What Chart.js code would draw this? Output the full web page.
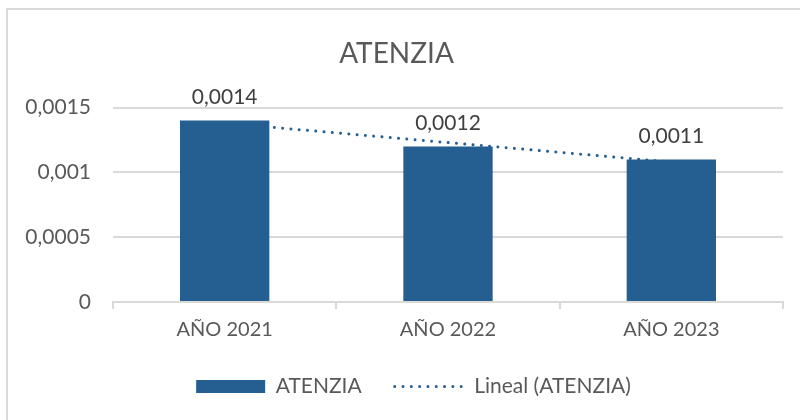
<!DOCTYPE html>
<html>
<head>
<meta charset="utf-8">
<script src="https://cdn.jsdelivr.net/npm/chart.js@4/dist/chart.umd.min.js"></script>
<style>
  html, body { margin: 0; padding: 0; background: #fff; }
  #wrap { position: relative; width: 800px; height: 420px; overflow: hidden; }
  #frame { position: absolute; left: 6px; top: 8px; width: 820px; height: 440px; border: 2px solid #d9d9d9; box-sizing: border-box; }
  canvas { position: absolute; left: 0; top: 0; }
</style>
</head>
<body>
<div id="wrap">
  <div id="frame"></div>
  <canvas id="c" width="800" height="420"></canvas>
</div>
<script>
const categories = ['AÑO 2021', 'AÑO 2022', 'AÑO 2023'];
const atenziaValues = [0.0014, 0.0012, 0.0011];
const trendValues = [0.00138, 0.00123, 0.00108];
const valueLabels = ['0,0014', '0,0012', '0,0011'];
const yTicks = [0, 0.0005, 0.001, 0.0015];
const yTickLabels = ['0', '0,0005', '0,001', '0,0015'];

const FONT = "Lato, 'Open Sans', sans-serif";
const TEXT = '#595959';
const BAR = '#255e91';

const dataLabelPlugin = {
  id: 'dataLabels',
  afterDatasetsDraw(chart) {
    const meta = chart.getDatasetMeta(0);
    const ctx = chart.ctx;
    ctx.save();
    ctx.font = '21px ' + FONT;
    ctx.fillStyle = '#404040';
    ctx.textAlign = 'center';
    ctx.textBaseline = 'middle';
    meta.data.forEach((bar, i) => {
      ctx.fillText(valueLabels[i], bar.x, bar.y - 23);
    });
    ctx.restore();
  }
};

const legendShift = {
  id: 'legendShift',
  afterLayout(chart) {
    if (chart.legend) {
      chart.legend.left += 17;
      chart.legend.right += 17;
    }
  }
};

new Chart(document.getElementById('c'), {
  data: {
    labels: categories,
    datasets: [
      {
        type: 'bar',
        label: 'ATENZIA',
        data: atenziaValues,
        backgroundColor: BAR,
        borderWidth: 0,
        barPercentage: 0.4,
        categoryPercentage: 1,
        order: 1
      },
      {
        type: 'line',
        label: 'Lineal (ATENZIA)',
        data: trendValues,
        borderColor: BAR,
        backgroundColor: BAR,
        borderWidth: 3,
        borderDash: [0.01, 8.3],
        borderCapStyle: 'round',
        pointRadius: 0,
        fill: false,
        order: 2
      }
    ]
  },
  options: {
    responsive: false,
    animation: false,
    devicePixelRatio: 1,
    layout: { padding: { top: 37, left: 10, right: 17, bottom: 13 } },
    plugins: {
      title: {
        display: true,
        text: 'ATENZIA',
        color: TEXT,
        font: { family: FONT, size: 28, weight: 'normal' },
        padding: { top: 0, bottom: 37 }
      },
      legend: {
        display: true,
        position: 'bottom',
        labels: {
          color: TEXT,
          font: { family: FONT, size: 21 },
          usePointStyle: true,
          pointStyleWidth: 69,
          boxHeight: 13,
          padding: 33,
          generateLabels(chart) {
            const items = Chart.defaults.plugins.legend.labels.generateLabels(chart);
            items.sort((a, b) => a.datasetIndex - b.datasetIndex);
            items.forEach(it => {
              if (it.datasetIndex === 0) {
                it.pointStyle = 'rect';
                it.lineWidth = 0;
                it.strokeStyle = BAR;
              } else {
                it.pointStyle = 'line';
                it.lineWidth = 3;
                it.lineDash = [0.01, 8.3];
                it.lineCap = 'round';
                it.strokeStyle = BAR;
              }
            });
            return items;
          }
        }
      },
      tooltip: { enabled: false }
    },
    scales: {
      x: {
        offset: true,
        afterFit(scale) { scale.height = 41; },
        grid: { display: true, drawOnChartArea: false, offset: true, tickLength: 7, color: '#d9d9d9', lineWidth: 2 },
        border: { display: true, color: '#d9d9d9', width: 2 },
        ticks: { color: TEXT, font: { family: FONT, size: 20 }, padding: 9 }
      },
      y: {
        min: 0,
        max: 0.0015,
        afterBuildTicks(scale) { scale.ticks = yTicks.map(v => ({ value: v })); },
        afterFit(scale) { scale.width = 103; },
        grid: { color: '#d9d9d9', lineWidth: 2, drawTicks: false },
        border: { display: false },
        ticks: {
          color: TEXT,
          font: { family: FONT, size: 21 },
          padding: 22,
          callback(value, index) { return yTickLabels[yTicks.indexOf(value)] ?? ''; }
        }
      }
    }
  },
  plugins: [dataLabelPlugin, legendShift]
});
</script>
</body>
</html>
